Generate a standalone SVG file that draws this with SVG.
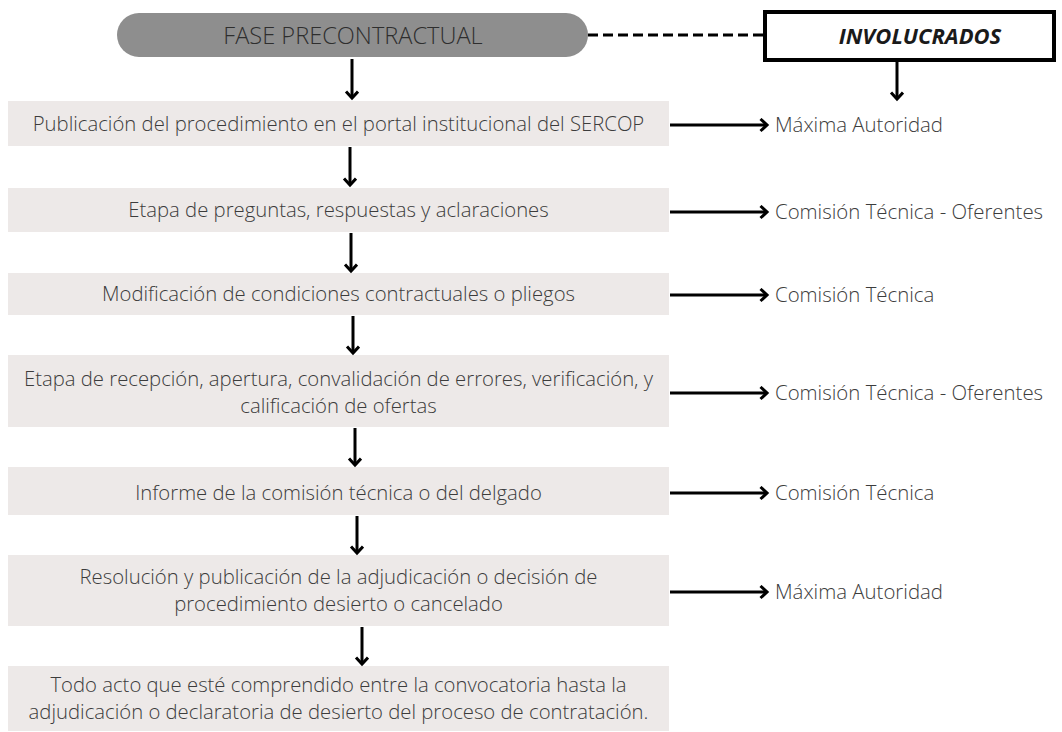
<svg xmlns="http://www.w3.org/2000/svg" width="1062" height="732" viewBox="0 0 1062 732">
<defs>
<style>
.box{fill:#ede9e8;}
.t{font-family:"Open Sans","Liberation Sans",sans-serif;font-weight:300;font-size:20.3px;fill:#3c3c3c;text-anchor:middle;}
.lbl{font-family:"Open Sans","Liberation Sans",sans-serif;font-weight:300;font-size:20.4px;fill:#3c3c3c;}
.ln{stroke:#000;stroke-width:3;fill:none;}
</style>
<marker id="ah" markerUnits="userSpaceOnUse" markerWidth="14" markerHeight="16" refX="8" refY="7" orient="auto" viewBox="0 0 14 16">
<path d="M1.5,1 L8,7 L1.5,13" fill="none" stroke="#000" stroke-width="3"/>
</marker>
</defs>
<rect width="1062" height="732" fill="#fff"/>

<g id="fase">
<rect x="117" y="13" width="471" height="44" rx="22" fill="#8e8e8e"/>
<text x="353" y="43.5" style="font-family:'Open Sans','Liberation Sans',sans-serif;font-weight:300;font-size:23.6px;fill:#2e2e2e;text-anchor:middle">FASE PRECONTRACTUAL</text>
</g>

<g id="involucrados">
<rect x="765" y="12" width="289" height="48" fill="#fff" stroke="#000" stroke-width="4"/>
<text x="920" y="43.5" style="font-family:'Open Sans','Liberation Sans',sans-serif;font-weight:700;font-style:italic;font-size:22px;fill:#1a1a1a;text-anchor:middle">INVOLUCRADOS</text>
</g>

<g id="n1">
<rect class="box" x="8" y="101" width="661" height="45"/>
<text class="t" x="338.5" y="131">Publicación del procedimiento en el portal institucional del SERCOP</text>
</g>
<g id="n2">
<rect class="box" x="8" y="188" width="661" height="44"/>
<text class="t" x="338.5" y="217">Etapa de preguntas, respuestas y aclaraciones</text>
</g>
<g id="n3">
<rect class="box" x="8" y="273" width="661" height="42"/>
<text class="t" x="338.5" y="301">Modificación de condiciones contractuales o pliegos</text>
</g>
<g id="n4">
<rect class="box" x="8" y="355" width="661" height="72"/>
<text class="t" x="338.5" y="386">Etapa de recepción, apertura, convalidación de errores, verificación, y</text>
<text class="t" x="338.5" y="413">calificación de ofertas</text>
</g>
<g id="n5">
<rect class="box" x="8" y="467" width="661" height="48"/>
<text class="t" x="338.5" y="500">Informe de la comisión técnica o del delgado</text>
</g>
<g id="n6">
<rect class="box" x="8" y="555" width="661" height="71"/>
<text class="t" x="338.5" y="584">Resolución y publicación de la adjudicación o decisión de</text>
<text class="t" x="338.5" y="611">procedimiento desierto o cancelado</text>
</g>
<g id="n7">
<rect class="box" x="8" y="666" width="661" height="65"/>
<text class="t" x="338.5" y="692">Todo acto que esté comprendido entre la convocatoria hasta la</text>
<text class="t" x="338.5" y="719">adjudicación o declaratoria de desierto del proceso de contratación.</text>
</g>

<g id="labels">
<text class="lbl" x="775" y="131.5">Máxima Autoridad</text>
<text class="lbl" x="775" y="218.5">Comisión Técnica - Oferentes</text>
<text class="lbl" x="775" y="301.5">Comisión Técnica</text>
<text class="lbl" x="775" y="399.5">Comisión Técnica - Oferentes</text>
<text class="lbl" x="775" y="499.5">Comisión Técnica</text>
<text class="lbl" x="775" y="598.5">Máxima Autoridad</text>
</g>

<g id="connectors">
<line x1="588" y1="35" x2="765" y2="35" stroke="#000" stroke-width="3" stroke-dasharray="10,5"/>
<line class="ln" x1="897" y1="62" x2="897" y2="99" marker-end="url(#ah)"/>
<line class="ln" x1="352" y1="59" x2="352" y2="98" marker-end="url(#ah)"/>
<line class="ln" x1="350" y1="147" x2="350" y2="185" marker-end="url(#ah)"/>
<line class="ln" x1="351" y1="233" x2="351" y2="271" marker-end="url(#ah)"/>
<line class="ln" x1="353" y1="316" x2="353" y2="353" marker-end="url(#ah)"/>
<line class="ln" x1="355" y1="428" x2="355" y2="465" marker-end="url(#ah)"/>
<line class="ln" x1="357" y1="516" x2="357" y2="553" marker-end="url(#ah)"/>
<line class="ln" x1="362" y1="627" x2="362" y2="664" marker-end="url(#ah)"/>
<line class="ln" x1="670" y1="125" x2="767" y2="125" marker-end="url(#ah)"/>
<line class="ln" x1="670" y1="212" x2="767" y2="212" marker-end="url(#ah)"/>
<line class="ln" x1="670" y1="295" x2="767" y2="295" marker-end="url(#ah)"/>
<line class="ln" x1="670" y1="393" x2="767" y2="393" marker-end="url(#ah)"/>
<line class="ln" x1="670" y1="493" x2="767" y2="493" marker-end="url(#ah)"/>
<line class="ln" x1="670" y1="592" x2="767" y2="592" marker-end="url(#ah)"/>
</g>
</svg>
